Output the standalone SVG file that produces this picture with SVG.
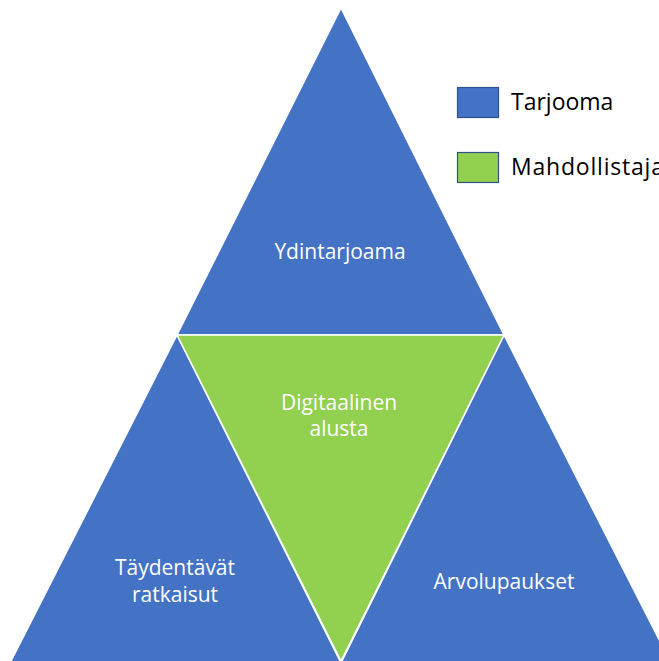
<svg xmlns="http://www.w3.org/2000/svg" width="659" height="661" viewBox="0 0 659 661">
  <style>
    .offer { fill: #4472C4; stroke: #FFFFFF; stroke-width: 1.5; stroke-linejoin: miter; }
    .enabler { fill: #92D050; stroke: #FFFFFF; stroke-width: 1.5; stroke-linejoin: miter; }
    .label { font-family: "Open Sans", "Noto Sans", "Liberation Sans", sans-serif; font-size: 21px; fill: #FFFFFF; text-anchor: middle; }
    .key-offer { fill: #4472C4; stroke: #2F528F; stroke-width: 1.2; }
    .key-enabler { fill: #92D050; stroke: #2F528F; stroke-width: 1.2; }
    .key-text { font-family: "Open Sans", "Noto Sans", "Liberation Sans", sans-serif; font-size: 23px; fill: #000000; }
  </style>
  <rect width="659" height="661" fill="#FFFFFF"/>

  <!-- top: core offering -->
  <g id="ydintarjoama">
    <polygon class="offer" points="341,8 504,335 177,335"/>
    <text class="label" x="340" y="259">Ydintarjoama</text>
  </g>

  <!-- bottom left: complementary solutions -->
  <g id="taydentavat-ratkaisut">
    <polygon class="offer" points="177,335 342,665 9,665"/>
    <text class="label" x="175" y="575">Täydentävät</text>
    <text class="label" x="175" y="602">ratkaisut</text>
  </g>

  <!-- bottom right: value propositions -->
  <g id="arvolupaukset">
    <polygon class="offer" points="504,335 672,665 340,665"/>
    <text class="label" x="504" y="589">Arvolupaukset</text>
  </g>

  <!-- centre, inverted: digital platform -->
  <g id="digitaalinen-alusta">
    <polygon class="enabler" points="177,335 504,335 341,661"/>
    <text class="label" x="339" y="410">Digitaalinen</text>
    <text class="label" x="339" y="436">alusta</text>
  </g>

  <!-- legend -->
  <g id="legend">
    <rect class="key-offer" x="457.5" y="87.5" width="41" height="30"/>
    <text class="key-text" x="511" y="110">Tarjooma</text>
    <rect class="key-enabler" x="457.5" y="152.5" width="41" height="30"/>
    <text class="key-text" x="511" y="175" textLength="153" lengthAdjust="spacing">Mahdollistaja</text>
  </g>
</svg>
